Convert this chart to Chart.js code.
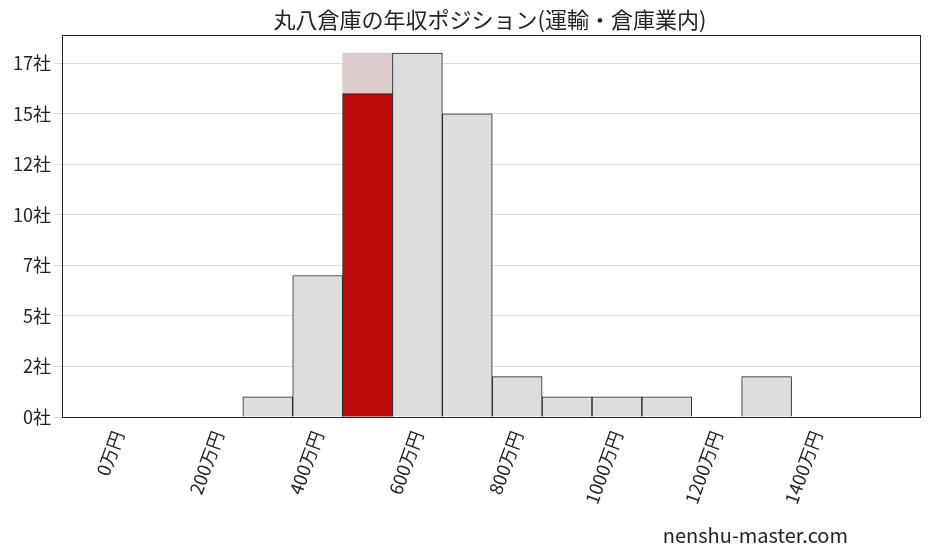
<!DOCTYPE html>
<html><head><meta charset="utf-8">
<script src="https://cdn.jsdelivr.net/npm/chart.js@4"></script>
<style>body{margin:0;background:#fff}#w{width:928px;height:557px}</style>
</head><body><div id="w"><canvas id="c"></canvas></div>
<script>
const binCenters=[300,400,500,600,700,800,900,1000,1100,1300];
const counts=[1,7,16,18,15,2,1,1,1,2];
const highlightBin=500;
const highlightTop=18;
const xTicks=[0,200,400,600,800,1000,1200,1400];
const title='丸八倉庫の年収ポジション(運輸・倉庫業内)';
const F='"Noto Sans CJK JP", sans-serif';
const main=binCenters.map((x,i)=>({x,y:counts[i]}));
const over=[{x:highlightBin,y:highlightTop}];
const deco={id:'deco',afterDraw(ch){const c=ch.ctx;c.save();c.fillStyle='#222';c.font='22px '+F;c.textAlign='center';c.fillText(title,490,28);
c.font='20px '+F;c.textAlign='right';c.fillText('nenshu-master.com',848,543);
const a=ch.chartArea;c.strokeStyle='#222';c.lineWidth=1;c.strokeRect(a.left+0.5,a.top+0.5,a.right-a.left,a.bottom-a.top);c.restore();}};
new Chart(document.getElementById('c'),{type:'bar',
data:{datasets:[
{data:main,backgroundColor:main.map(p=>p.x===highlightBin?'#c00a0a':'#dcdddf'),borderColor:'#222',borderWidth:1,barPercentage:1,categoryPercentage:1,grouped:false,order:1},
{data:over,backgroundColor:'#dccbcb',borderWidth:0,barPercentage:1,categoryPercentage:1,grouped:false,order:2}
]},
options:{responsive:true,maintainAspectRatio:false,animation:false,
layout:{padding:{top:35,right:8,left:0,bottom:0}},
plugins:{legend:{display:false},tooltip:{enabled:false}},
scales:{
x:{type:'linear',min:-5,max:1500,grid:{display:false},border:{display:false},
afterBuildTicks(s){s.ticks=xTicks.map(v=>({value:v}));},
afterFit(s){s.height=140;},
ticks:{color:'#222',font:{family:F,size:18},maxRotation:70,minRotation:70,callback:v=>v+'万円'}},
y:{min:0,max:18.9,grid:{color:'#dddddd'},border:{display:false},
afterBuildTicks(s){const t=[];for(let v=0;v<=18.9;v+=2.5)t.push({value:v});s.ticks=t;},
afterFit(s){s.width=62;},
ticks:{color:'#222',font:{family:F,size:18},callback:v=>Math.floor(v)+'社'}}
}},plugins:[deco]});
</script></body></html>
